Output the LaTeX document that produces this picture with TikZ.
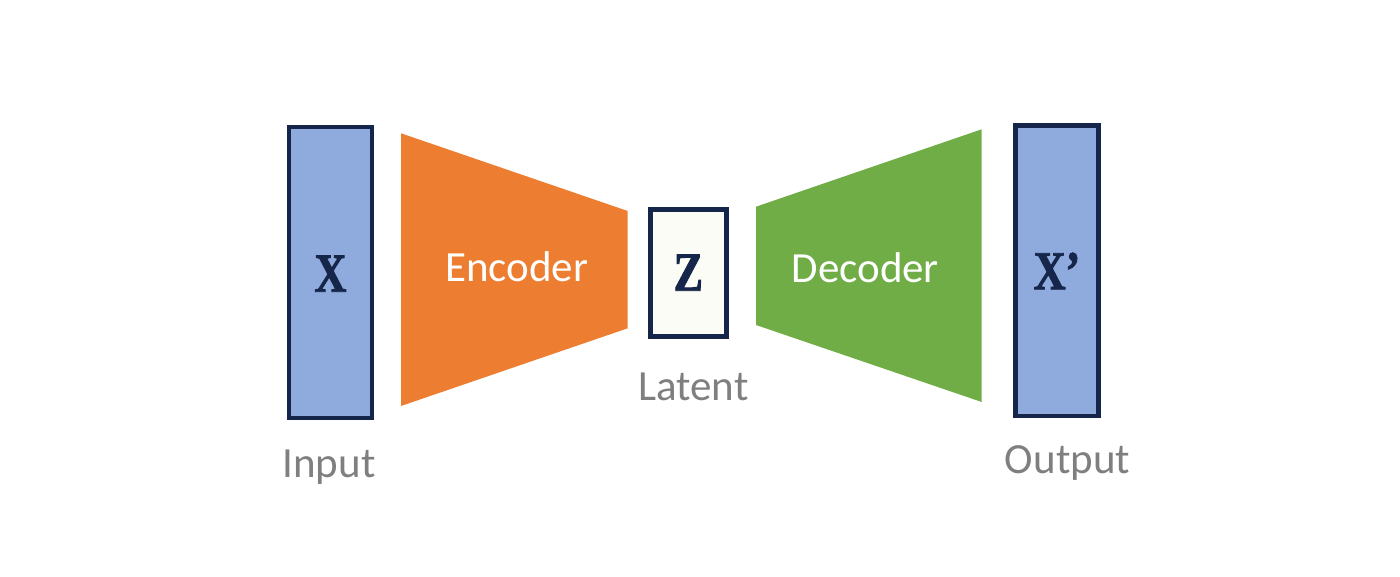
\documentclass[tikz,border=0pt]{standalone}
\usepackage{fontspec}
\setmainfont{Carlito}
\newfontfamily\serifbold[FakeStretch=0.8,FakeBold=1.6]{Liberation Serif Bold}
\definecolor{boxblue}{HTML}{8FAADC}
\definecolor{navy}{HTML}{15264A}
\definecolor{encorange}{HTML}{ED7D31}
\definecolor{decgreen}{HTML}{70AD47}
\definecolor{labgrey}{HTML}{7F7F7F}
\definecolor{latfill}{HTML}{FBFCF6}
\tikzset{
  vecbox/.style={draw=navy, line width=4.4pt, fill=boxblue, inner sep=0pt, outer sep=0pt},
  latbox/.style={draw=navy, line width=4.6pt, fill=latfill, inner sep=0pt, outer sep=0pt},
  symtext/.style={text=navy, font=\serifbold\fontsize{55}{55}\selectfont, anchor=base, inner sep=0pt},
  stagetext/.style={text=white, font=\fontsize{43}{43}\selectfont, anchor=base, inner sep=0pt},
  labtext/.style={text=labgrey, font=\fontsize{43}{43}\selectfont, anchor=base, inner sep=0pt}
}
\begin{document}
\begin{tikzpicture}[x=1pt,y=-1pt]
\useasboundingbox (0,0) rectangle (1400,577);
% input box
\node[vecbox, minimum width=83pt, minimum height=291pt] (xbox) at (330.5,272.7) {};
% encoder trapezoid
\fill[encorange] (401,133.3) -- (627.7,211) -- (627.7,328.3) -- (401,406) -- cycle;
% latent box
\node[latbox, minimum width=76.4pt, minimum height=127pt] (zbox) at (688.5,273) {};
% decoder trapezoid
\fill[decgreen] (756,206.7) -- (981.7,129.3) -- (981.7,402) -- (756,325) -- cycle;
% output box
\node[vecbox, minimum width=83pt, minimum height=290.5pt] (xpbox) at (1057,270.8) {};
% texts
\node[symtext] (xlab) at (330.5,291.7) {X};
\node[symtext] (zlab) at (688.3,290.7) {Z};
\node[symtext] (xplab) at (1057,289.3) {X’};
\node[stagetext] (enc) at (516.7,281.7) {Encoder};
\node[stagetext] (dec) at (865.3,282.3) {Decoder};
\node[labtext] (inp) at (329,477) {Input};
\node[labtext] (lat) at (693.3,400.7) {Latent};
\node[labtext] (out) at (1067.5,473.3) {Output};
\end{tikzpicture}
\end{document}
